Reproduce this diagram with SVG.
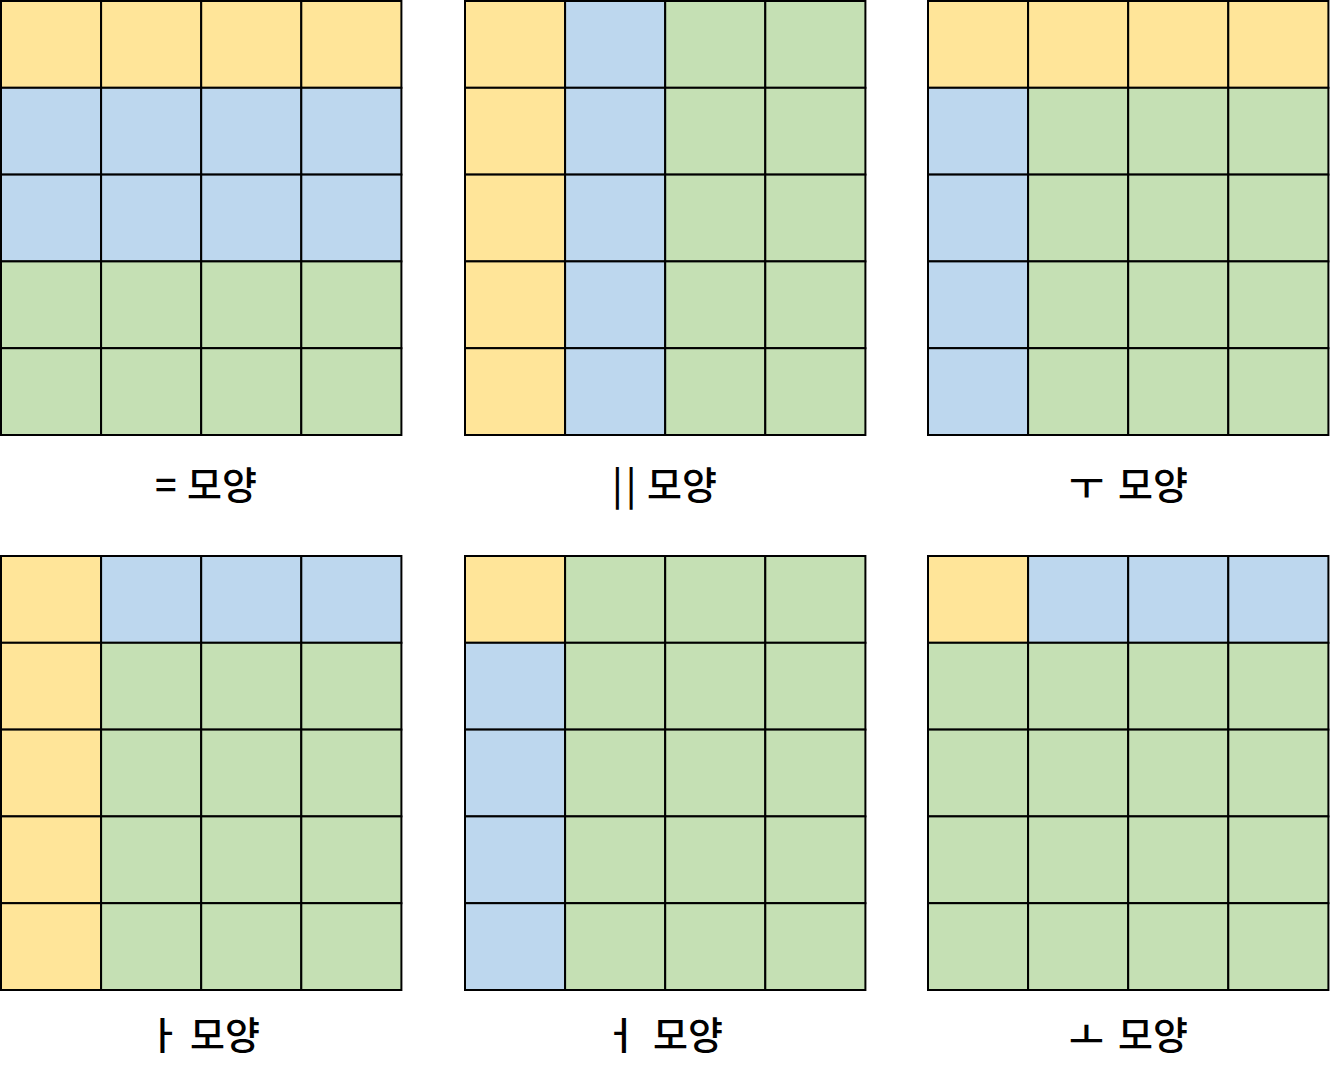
<svg xmlns="http://www.w3.org/2000/svg" width="1332" height="1079" viewBox="0 0 1332 1079">
<style>
.c rect{stroke:#000;stroke-width:2}
.y{fill:#FFE599}.b{fill:#BDD7EE}.g{fill:#C5E0B4}
text{font-family:"Noto Sans CJK KR","Noto Sans",sans-serif;font-size:38px;font-weight:500;fill:#000}
</style>
<rect width="1332" height="1079" fill="#fff"/>
<g id="grid1" class="c">
<rect class="y" x="1" y="1" width="100.1" height="86.8"/><rect class="y" x="101.1" y="1" width="100.1" height="86.8"/><rect class="y" x="201.2" y="1" width="100.1" height="86.8"/><rect class="y" x="301.3" y="1" width="100.1" height="86.8"/>
<rect class="b" x="1" y="87.8" width="100.1" height="86.8"/><rect class="b" x="101.1" y="87.8" width="100.1" height="86.8"/><rect class="b" x="201.2" y="87.8" width="100.1" height="86.8"/><rect class="b" x="301.3" y="87.8" width="100.1" height="86.8"/>
<rect class="b" x="1" y="174.6" width="100.1" height="86.8"/><rect class="b" x="101.1" y="174.6" width="100.1" height="86.8"/><rect class="b" x="201.2" y="174.6" width="100.1" height="86.8"/><rect class="b" x="301.3" y="174.6" width="100.1" height="86.8"/>
<rect class="g" x="1" y="261.4" width="100.1" height="86.8"/><rect class="g" x="101.1" y="261.4" width="100.1" height="86.8"/><rect class="g" x="201.2" y="261.4" width="100.1" height="86.8"/><rect class="g" x="301.3" y="261.4" width="100.1" height="86.8"/>
<rect class="g" x="1" y="348.2" width="100.1" height="86.8"/><rect class="g" x="101.1" y="348.2" width="100.1" height="86.8"/><rect class="g" x="201.2" y="348.2" width="100.1" height="86.8"/><rect class="g" x="301.3" y="348.2" width="100.1" height="86.8"/>
<text y="499"><tspan x="155">=</tspan> <tspan x="187">모양</tspan></text>
</g>
<g id="grid2" class="c">
<rect class="y" x="465" y="1" width="100.1" height="86.8"/><rect class="b" x="565.1" y="1" width="100.1" height="86.8"/><rect class="g" x="665.2" y="1" width="100.1" height="86.8"/><rect class="g" x="765.3" y="1" width="100.1" height="86.8"/>
<rect class="y" x="465" y="87.8" width="100.1" height="86.8"/><rect class="b" x="565.1" y="87.8" width="100.1" height="86.8"/><rect class="g" x="665.2" y="87.8" width="100.1" height="86.8"/><rect class="g" x="765.3" y="87.8" width="100.1" height="86.8"/>
<rect class="y" x="465" y="174.6" width="100.1" height="86.8"/><rect class="b" x="565.1" y="174.6" width="100.1" height="86.8"/><rect class="g" x="665.2" y="174.6" width="100.1" height="86.8"/><rect class="g" x="765.3" y="174.6" width="100.1" height="86.8"/>
<rect class="y" x="465" y="261.4" width="100.1" height="86.8"/><rect class="b" x="565.1" y="261.4" width="100.1" height="86.8"/><rect class="g" x="665.2" y="261.4" width="100.1" height="86.8"/><rect class="g" x="765.3" y="261.4" width="100.1" height="86.8"/>
<rect class="y" x="465" y="348.2" width="100.1" height="86.8"/><rect class="b" x="565.1" y="348.2" width="100.1" height="86.8"/><rect class="g" x="665.2" y="348.2" width="100.1" height="86.8"/><rect class="g" x="765.3" y="348.2" width="100.1" height="86.8"/>
<text y="499"><tspan x="612" letter-spacing="3">||</tspan> <tspan x="647">모양</tspan></text>
</g>
<g id="grid3" class="c">
<rect class="y" x="928" y="1" width="100.1" height="86.8"/><rect class="y" x="1028.1" y="1" width="100.1" height="86.8"/><rect class="y" x="1128.2" y="1" width="100.1" height="86.8"/><rect class="y" x="1228.3" y="1" width="100.1" height="86.8"/>
<rect class="b" x="928" y="87.8" width="100.1" height="86.8"/><rect class="g" x="1028.1" y="87.8" width="100.1" height="86.8"/><rect class="g" x="1128.2" y="87.8" width="100.1" height="86.8"/><rect class="g" x="1228.3" y="87.8" width="100.1" height="86.8"/>
<rect class="b" x="928" y="174.6" width="100.1" height="86.8"/><rect class="g" x="1028.1" y="174.6" width="100.1" height="86.8"/><rect class="g" x="1128.2" y="174.6" width="100.1" height="86.8"/><rect class="g" x="1228.3" y="174.6" width="100.1" height="86.8"/>
<rect class="b" x="928" y="261.4" width="100.1" height="86.8"/><rect class="g" x="1028.1" y="261.4" width="100.1" height="86.8"/><rect class="g" x="1128.2" y="261.4" width="100.1" height="86.8"/><rect class="g" x="1228.3" y="261.4" width="100.1" height="86.8"/>
<rect class="b" x="928" y="348.2" width="100.1" height="86.8"/><rect class="g" x="1028.1" y="348.2" width="100.1" height="86.8"/><rect class="g" x="1128.2" y="348.2" width="100.1" height="86.8"/><rect class="g" x="1228.3" y="348.2" width="100.1" height="86.8"/>
<text y="499"><tspan x="1069">ㅜ</tspan> <tspan x="1118">모양</tspan></text>
</g>
<g id="grid4" class="c">
<rect class="y" x="1" y="556" width="100.1" height="86.8"/><rect class="b" x="101.1" y="556" width="100.1" height="86.8"/><rect class="b" x="201.2" y="556" width="100.1" height="86.8"/><rect class="b" x="301.3" y="556" width="100.1" height="86.8"/>
<rect class="y" x="1" y="642.8" width="100.1" height="86.8"/><rect class="g" x="101.1" y="642.8" width="100.1" height="86.8"/><rect class="g" x="201.2" y="642.8" width="100.1" height="86.8"/><rect class="g" x="301.3" y="642.8" width="100.1" height="86.8"/>
<rect class="y" x="1" y="729.6" width="100.1" height="86.8"/><rect class="g" x="101.1" y="729.6" width="100.1" height="86.8"/><rect class="g" x="201.2" y="729.6" width="100.1" height="86.8"/><rect class="g" x="301.3" y="729.6" width="100.1" height="86.8"/>
<rect class="y" x="1" y="816.4" width="100.1" height="86.8"/><rect class="g" x="101.1" y="816.4" width="100.1" height="86.8"/><rect class="g" x="201.2" y="816.4" width="100.1" height="86.8"/><rect class="g" x="301.3" y="816.4" width="100.1" height="86.8"/>
<rect class="y" x="1" y="903.2" width="100.1" height="86.8"/><rect class="g" x="101.1" y="903.2" width="100.1" height="86.8"/><rect class="g" x="201.2" y="903.2" width="100.1" height="86.8"/><rect class="g" x="301.3" y="903.2" width="100.1" height="86.8"/>
<text y="1049"><tspan x="146">ㅏ</tspan> <tspan x="190">모양</tspan></text>
</g>
<g id="grid5" class="c">
<rect class="y" x="465" y="556" width="100.1" height="86.8"/><rect class="g" x="565.1" y="556" width="100.1" height="86.8"/><rect class="g" x="665.2" y="556" width="100.1" height="86.8"/><rect class="g" x="765.3" y="556" width="100.1" height="86.8"/>
<rect class="b" x="465" y="642.8" width="100.1" height="86.8"/><rect class="g" x="565.1" y="642.8" width="100.1" height="86.8"/><rect class="g" x="665.2" y="642.8" width="100.1" height="86.8"/><rect class="g" x="765.3" y="642.8" width="100.1" height="86.8"/>
<rect class="b" x="465" y="729.6" width="100.1" height="86.8"/><rect class="g" x="565.1" y="729.6" width="100.1" height="86.8"/><rect class="g" x="665.2" y="729.6" width="100.1" height="86.8"/><rect class="g" x="765.3" y="729.6" width="100.1" height="86.8"/>
<rect class="b" x="465" y="816.4" width="100.1" height="86.8"/><rect class="g" x="565.1" y="816.4" width="100.1" height="86.8"/><rect class="g" x="665.2" y="816.4" width="100.1" height="86.8"/><rect class="g" x="765.3" y="816.4" width="100.1" height="86.8"/>
<rect class="b" x="465" y="903.2" width="100.1" height="86.8"/><rect class="g" x="565.1" y="903.2" width="100.1" height="86.8"/><rect class="g" x="665.2" y="903.2" width="100.1" height="86.8"/><rect class="g" x="765.3" y="903.2" width="100.1" height="86.8"/>
<text y="1049"><tspan x="603">ㅓ</tspan> <tspan x="653">모양</tspan></text>
</g>
<g id="grid6" class="c">
<rect class="y" x="928" y="556" width="100.1" height="86.8"/><rect class="b" x="1028.1" y="556" width="100.1" height="86.8"/><rect class="b" x="1128.2" y="556" width="100.1" height="86.8"/><rect class="b" x="1228.3" y="556" width="100.1" height="86.8"/>
<rect class="g" x="928" y="642.8" width="100.1" height="86.8"/><rect class="g" x="1028.1" y="642.8" width="100.1" height="86.8"/><rect class="g" x="1128.2" y="642.8" width="100.1" height="86.8"/><rect class="g" x="1228.3" y="642.8" width="100.1" height="86.8"/>
<rect class="g" x="928" y="729.6" width="100.1" height="86.8"/><rect class="g" x="1028.1" y="729.6" width="100.1" height="86.8"/><rect class="g" x="1128.2" y="729.6" width="100.1" height="86.8"/><rect class="g" x="1228.3" y="729.6" width="100.1" height="86.8"/>
<rect class="g" x="928" y="816.4" width="100.1" height="86.8"/><rect class="g" x="1028.1" y="816.4" width="100.1" height="86.8"/><rect class="g" x="1128.2" y="816.4" width="100.1" height="86.8"/><rect class="g" x="1228.3" y="816.4" width="100.1" height="86.8"/>
<rect class="g" x="928" y="903.2" width="100.1" height="86.8"/><rect class="g" x="1028.1" y="903.2" width="100.1" height="86.8"/><rect class="g" x="1128.2" y="903.2" width="100.1" height="86.8"/><rect class="g" x="1228.3" y="903.2" width="100.1" height="86.8"/>
<text y="1049"><tspan x="1069">ㅗ</tspan> <tspan x="1118">모양</tspan></text>
</g>
<g id="connectors"/>
</svg>
